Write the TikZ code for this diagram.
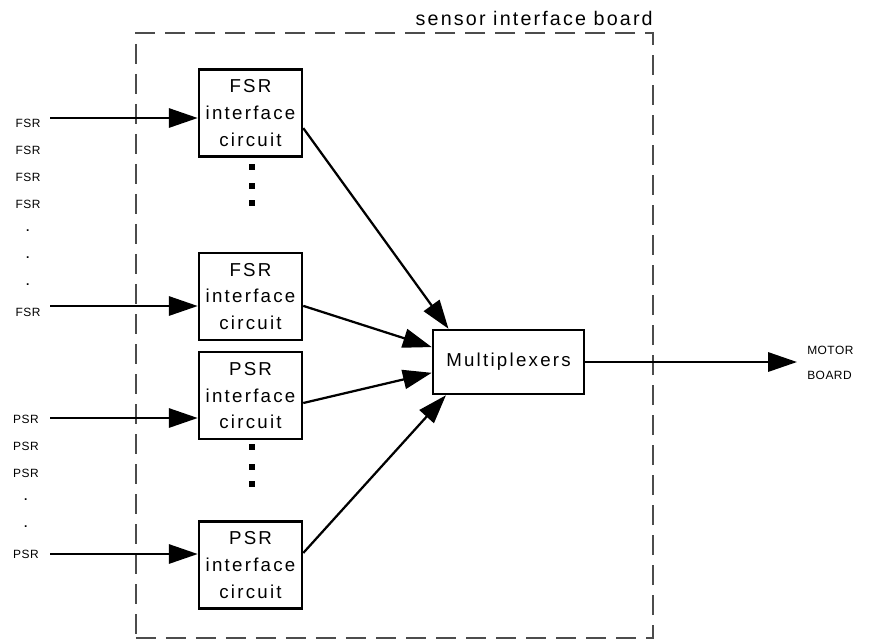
\documentclass[tikz,border=0pt]{standalone}
\usepackage{fontspec}
\setmainfont{Liberation Sans}
\newfontfamily\boxfont[LetterSpace=12]{Liberation Sans}
\newfontfamily\titlefont[LetterSpace=11]{Liberation Sans}
\newfontfamily\tagfont[LetterSpace=4]{Liberation Sans}
\usetikzlibrary{arrows.meta,positioning}

\begin{document}
\begin{tikzpicture}[%
x=0.025cm, y=-0.025cm,
>={Triangle[length=7.2mm,width=4.8mm]},
node distance=0.675cm,
on grid,
circ/.style={draw, line width=1.8pt, minimum width=2.575cm, minimum height=2.175cm,
  inner sep=0pt, align=center, font=\boxfont\fontsize{13.3}{19}\selectfont},
mux/.style={draw, line width=1.8pt, minimum width=3.775cm, minimum height=1.6cm,
  inner sep=0pt, font=\boxfont\fontsize{13.3}{19}\selectfont},
tag/.style={inner sep=0pt, font=\tagfont\fontsize{8.5}{9}\selectfont},
dot/.style={fill, minimum size=0.14cm, inner sep=0pt},
wire/.style={line width=1.6pt}
]
\useasboundingbox (0,0) rectangle (872,641);

% the board
\node[draw, gray!60!black, line width=1pt, dash pattern=on 0.5cm off 0.25cm,
  minimum width=12.925cm, minimum height=15.125cm] (board) at (394.5,335.5) {};
\node[anchor=base east, inner sep=0pt, font=\titlefont\fontsize{14}{16}\selectfont]
  (title) at (653,25) {sensor interface board};

% interface circuits
\node[circ] (f1) at (250.5,113) {FSR\\interface\\circuit};
\node[circ] (f2) [below=4.5875cm of f1] {FSR\\interface\\circuit};
\node[circ] (p1) [below=2.475cm of f2] {PSR\\interface\\circuit};
\node[circ] (p2) [below=4.2375cm of p1] {PSR\\interface\\circuit};

\node[dot] (d1) at (252,167) {};
\node[dot] (d2) at (252,186) {};
\node[dot] (d3) at (252,203) {};
\node[dot] (d4) at (252,447) {};
\node[dot] (d5) at (252,467) {};
\node[dot] (d6) at (252,484) {};

\node[mux] (m) at (508.5,362) {Multiplexers};

% sensor labels
\node[tag] (l1) at (28,123) {FSR};
\node[tag] (l2) [below=of l1] {FSR};
\node[tag] (l3) [below=of l2] {FSR};
\node[tag] (l4) [below=of l3] {FSR};
\node[tag] (l5) [below=of l4] {\textbf{.}};
\node[tag] (l6) [below=of l5] {\textbf{.}};
\node[tag] (l7) [below=of l6] {\textbf{.}};
\node[tag] (l8) [below=of l7] {FSR};

\node[tag] (k1) at (26,419) {PSR};
\node[tag] (k2) [below=of k1] {PSR};
\node[tag] (k3) [below=of k2] {PSR};
\node[tag] (k4) [below=of k3] {\textbf{.}};
\node[tag] (k5) [below=of k4] {\textbf{.}};
\node[tag] (k6) [below=of k5] {PSR};

\node[tag, anchor=west] (motor) at (807,350) {MOTOR};
\node[tag, anchor=west] (mboard) at (807,375) {BOARD};

\coordinate (in1) at (50,118);
\coordinate (in2) at (50,306);
\coordinate (in3) at (50,418);
\coordinate (in4) at (50,554);
\coordinate (out) at (797,362);

% inputs
\path[->, wire] (in1) edge (in1 -| f1.west);
\path[->, wire] (in2) edge (in2 -| f2.west);
\path[->, wire] (in3) edge (in3 -| p1.west);
\path[->, wire] (in4) edge (in4 -| p2.west);

% into the multiplexers
\path[->, wire] (f1.-16) edge (m.151);
\path[->, wire] (f2.-10) edge (m.169);
\path[->, wire] (p1.-8) edge (m.-172);
\path[->, wire] (p2.13) edge (m.-152);

% out to the motor board
\path[->, wire] (m.east) edge (out);
\end{tikzpicture}
\end{document}
